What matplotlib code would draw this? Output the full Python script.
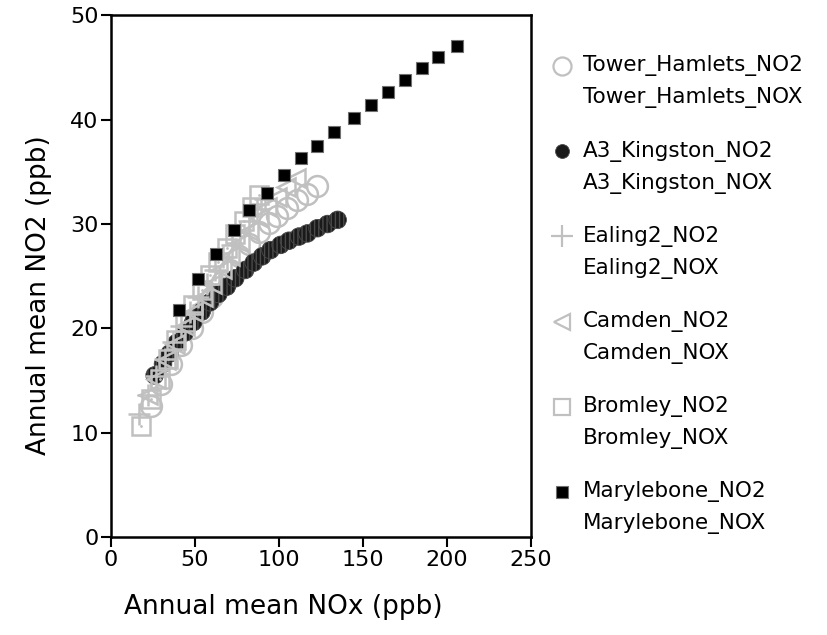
import matplotlib.pyplot as plt
from matplotlib.lines import Line2D

# NOx (x) and NO2 (y) annual means, ppb
th_nox = [24, 30, 36, 42, 48, 54, 60, 66, 71, 76, 82, 88, 94, 99, 105, 111, 117, 123]
th_no2 = [12.6, 14.7, 16.6, 18.4, 20.0, 21.6, 23.0, 24.4, 25.6, 26.9, 28.1, 29.2, 30.1, 30.8, 31.5, 32.3, 32.9, 33.6]

kg_nox = [26, 31, 35, 39, 44, 49, 54, 59, 64, 69, 74, 80, 85, 90, 95, 101, 106, 112, 117, 123, 129, 135]
kg_no2 = [15.5, 16.6, 17.6, 18.6, 19.6, 20.6, 21.6, 22.5, 23.3, 24.0, 24.8, 25.6, 26.3, 26.9, 27.5, 28.0, 28.4, 28.8, 29.1, 29.6, 30.0, 30.4]

ea_nox = [17, 22, 27, 32, 37, 42, 47, 52, 57, 62, 67, 72, 77, 82, 87, 92]
ea_no2 = [11.8, 13.6, 15.4, 17.1, 18.7, 20.2, 21.6, 23.0, 24.3, 25.6, 26.8, 28.0, 29.2, 30.3, 31.4, 32.4]

ca_nox = [22, 27, 33, 38, 44, 49, 55, 60, 66, 71, 77, 82, 88, 93, 99, 104, 110]
ca_no2 = [13.6, 15.2, 17.0, 18.5, 20.2, 21.6, 23.0, 24.3, 25.7, 26.9, 28.2, 29.3, 30.6, 31.6, 32.6, 33.5, 34.4]

br_nox = [18, 24, 29, 34, 39, 44, 49, 54, 59, 64, 69, 74, 79, 84, 88]
br_no2 = [10.7, 13.2, 15.2, 17.1, 18.9, 20.6, 22.2, 23.7, 25.1, 26.4, 27.7, 29.0, 30.3, 31.6, 32.8]

ma_nox = [40.5, 52, 62.5, 73, 82.5, 93, 103, 113, 123, 133, 145, 155, 165, 175, 185, 195, 206]
ma_no2 = [21.8, 24.7, 27.1, 29.4, 31.3, 33.0, 34.7, 36.3, 37.5, 38.85, 40.2, 41.4, 42.65, 43.8, 44.95, 46.0, 47.1]

sites = ["Tower_Hamlets", "A3_Kingston", "Ealing2", "Camden", "Bromley", "Marylebone"]

plt.rcParams['font.family'] = 'DejaVu Sans'
gray = '#c0c0c0'

fig = plt.figure(figsize=(8.28, 6.35), dpi=100)
ax = fig.add_axes([0.134, 0.154, 0.507, 0.822])

ax.plot(th_nox, th_no2, 'o', ms=15, mfc='none', mec=gray, mew=1.8)
ax.scatter(kg_nox, kg_no2, s=160, facecolor='#1a1a1a', edgecolor='#4a4a4a',
           hatch='||||', linewidth=0.6, zorder=3)
ax.plot(ea_nox, ea_no2, '+', ms=16, mec=gray, mew=1.8, zorder=4)
ax.plot(ca_nox, ca_no2, '<', ms=13, mfc='none', mec=gray, mew=1.8, zorder=4)
ax.plot(br_nox, br_no2, 's', ms=13, mfc='none', mec=gray, mew=1.8, zorder=4)
ax.plot(br_nox, br_no2, '.', ms=2, color=gray, zorder=4)
ax.plot(ma_nox, ma_no2, 's', ms=9, mfc='black', mec='#707070', mew=0.8, zorder=5)

ax.set_xlim(0, 250)
ax.set_ylim(0, 50)
ax.set_xticks([0, 50, 100, 150, 200, 250])
ax.set_yticks([0, 10, 20, 30, 40, 50])
ax.tick_params(direction='out', length=7, width=1.5, labelsize=16, pad=2)
for s in ax.spines.values():
    s.set_linewidth(1.8)
ax.set_xlabel("Annual mean NOx (ppb)", fontsize=19)
ax.set_ylabel("Annual mean NO2 (ppb)", fontsize=19)
ax.xaxis.set_label_coords(0.41, -0.108)
ax.yaxis.set_label_coords(-0.14, 0.464)

# legend drawn by hand: marker + NO2 label, then NOX label underneath
handles = [
    dict(marker='o', ms=13, mfc='none', mec=gray, mew=1.6),
    dict(marker='o', ms=10, mfc='#1a1a1a', mec='#4a4a4a', mew=0.6),
    dict(marker='+', ms=16, mfc='none', mec=gray, mew=1.6),
    dict(marker='<', ms=11, mfc='none', mec=gray, mew=1.6),
    dict(marker='s', ms=11, mfc='none', mec=gray, mew=1.6),
    dict(marker='s', ms=8, mfc='black', mec='#707070', mew=0.8),
]
W, H = 828, 635
for i, (name, h) in enumerate(zip(sites, handles)):
    y1 = 66 + i * 85.2
    y2 = y1 + 32
    fig.add_artist(Line2D([562 / W], [1 - y1 / H], transform=fig.transFigure, ls='none', **h))
    fig.text(583 / W, 1 - y1 / H, name + "_NO2", fontsize=15.5, va='center', ha='left')
    fig.text(583 / W, 1 - y2 / H, name + "_NOX", fontsize=15.5, va='center', ha='left')

fig.savefig("out.png", dpi=100)
